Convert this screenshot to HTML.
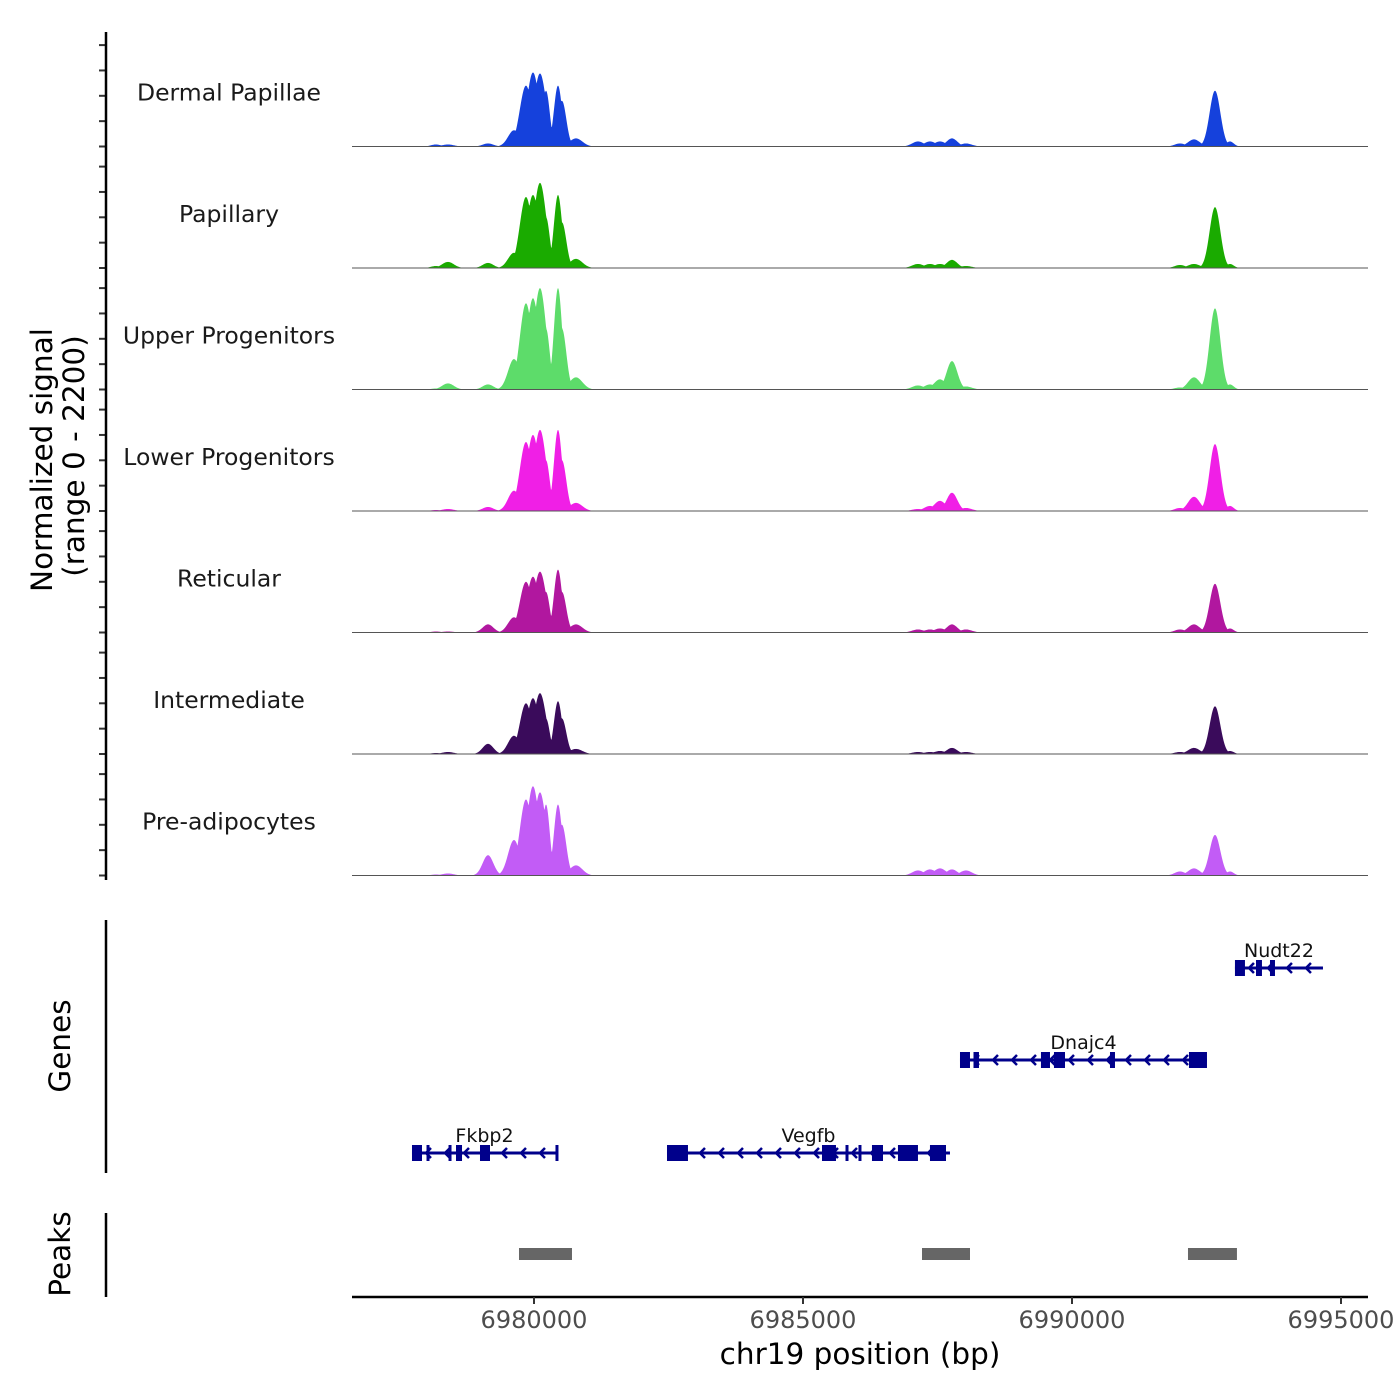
<!DOCTYPE html>
<html><head><meta charset="utf-8"><style>
body{margin:0;background:#fff;}
svg{display:block;font-family:"DejaVu Sans","Liberation Sans",sans-serif;}
</style></head><body>
<svg id="chart" width="1400" height="1400" viewBox="0 0 1400 1400" xmlns="http://www.w3.org/2000/svg">
<g id="tracks"></g>
<g id="genes"></g>
<g id="peaks"></g>
<g id="axes"></g>
</svg>
<script>
const trackNames = ["Dermal Papillae","Papillary","Upper Progenitors","Lower Progenitors","Reticular","Intermediate","Pre-adipocytes"];
const trackColors = ["#1541dc","#1aab00","#5ddc6a","#f01fe6","#b1179f","#3a0b5b","#c25cf6"];
const peakCenters = [6978178,6978401,6979145,6979628,6979851,6979981,6980111,6980223,6980446,6980520,6980780,6987137,6987360,6987546,6987769,6988029,6992007,6992267,6992658,6992936];
const peakWidths  = [90,110,100,110,115,115,115,70,75,80,120,110,110,110,100,110,100,110,100,70];
const sigDermal   = [40,40,60,320,1200,1460,1440,1100,1200,900,160,100,100,100,160,60,60,140,1100,100];
const sigPapillary= [40,120,100,300,1400,1440,1680,1000,1440,900,180,80,80,80,160,40,60,80,1200,80];
const sigUpper    = [20,120,100,600,1700,1800,2000,1200,2000,1200,240,80,100,200,560,60,40,240,1600,100];
const sigLower    = [20,40,80,400,1360,1500,1600,1000,1600,1000,160,40,100,200,360,60,60,280,1320,100];
const sigReticular= [20,20,160,300,1000,1100,1200,800,1240,800,160,60,60,80,160,60,60,160,960,80];
const sigInterm   = [20,40,200,360,1000,1100,1200,700,1040,700,100,40,40,60,120,40,40,120,940,60];
const sigPreadipo = [20,40,400,700,1500,1760,1640,1400,1400,1000,200,100,120,140,120,100,80,140,800,80];
const signals = [sigDermal,sigPapillary,sigUpper,sigLower,sigReticular,sigInterm,sigPreadipo];
const xTicks = [6980000,6985000,6990000,6995000];
const yTicks = [0,500,1000,1500,2000];
const geneNames = ["Fkbp2","Vegfb","Dnajc4","Nudt22"];
const geneStarts = [6977732,6982472,6987918,6993029];
const geneEnds = [6980427,6987732,6992509,6994665];
const geneRows = [0,0,1,2];
const geneExons = [
 [[6977732,6977918],[6978550,6978662],[6978996,6979182]],
 [[6982472,6982862],[6985353,6985613],[6986282,6986487],[6986765,6987137],[6987360,6987658]],
 [[6987918,6988104],[6988197,6988271],[6989423,6989591],[6989665,6989870],[6990706,6990799],[6992174,6992509]],
 [[6993029,6993215],[6993420,6993531],[6993680,6993773]]
];
const geneMarks = [[6978030,6978439,6980427],[6985818,6986059],[6988197],[]];
const peakStarts = [6979721,6987212,6992156];
const peakEnds = [6980706,6988104,6993066];

const NS="http://www.w3.org/2000/svg";
const X0=352,X1=1368,BP0=6976617,BP1=6995502;
const x = bp => X0+(bp-BP0)*(X1-X0)/(BP1-BP0);
const xinv = px => BP0+(px-X0)*(BP1-BP0)/(X1-X0);
const baselines=[146.5,268,389.5,511,632.5,754,875.5];
const yScale = 0.0507;
function mk(tag,attrs,parent){const e=document.createElementNS(NS,tag);for(const k in attrs)e.setAttribute(k,attrs[k]);parent.appendChild(e);return e;}
const T=document.getElementById('tracks'),G=document.getElementById('genes'),P=document.getElementById('peaks'),A=document.getElementById('axes');

signals.forEach((sig,ti)=>{
  const b=baselines[ti];
  let d=`M${X0},${b}`;
  for(let px=X0;px<=X1;px+=0.5){
    const bp=xinv(px);let v=0;
    for(let i=0;i<peakCenters.length;i++){const z=(bp-peakCenters[i])/peakWidths[i];v=Math.max(v,sig[i]*Math.exp(-0.5*z*z));}
    d+=`L${px.toFixed(1)},${(b-v*yScale).toFixed(2)}`;
  }
  d+=`L${X1},${b}Z`;
  const p=mk('path',{d:d,fill:trackColors[ti]},T);
  
  
  const l=mk('line',{x1:X0,x2:X1,y1:b,y2:b,stroke:'#555','stroke-width':1},T);
  
  
  const t=mk('text',{x:229,y:b-46,'text-anchor':'middle','font-size':23.5,fill:'#1a1a1a'},T);
  t.textContent=trackNames[ti];
  
  
  yTicks.forEach(v=>{
    const ty=b-v*yScale;
    const tk=mk('line',{x1:99,x2:106,y1:ty,y2:ty,stroke:'#333','stroke-width':2},A);
    
    
  });
});

const rowY=[1153,1060,968];
geneNames.forEach((g,gi)=>{
  const y=rowY[geneRows[gi]],s=x(geneStarts[gi]),e=x(geneEnds[gi]);
  const grp=mk('g',{},G);
  
  
  mk('line',{x1:s,x2:e,y1:y,y2:y,stroke:'#00008b','stroke-width':3},grp);
  for(let px=s+14;px<e-6;px+=19){
    mk('polyline',{points:`${px+5},${y-5} ${px},${y} ${px+5},${y+5}`,fill:'none',stroke:'#00008b','stroke-width':2.5},grp);
  }
  geneExons[gi].forEach(ex=>{const a=x(ex[0]),c=x(ex[1]);mk('rect',{x:a,y:y-8,width:Math.max(c-a,3),height:16,fill:'#00008b'},grp);});
  geneMarks[gi].forEach(m=>{const a=x(m);mk('line',{x1:a,x2:a,y1:y-8,y2:y+8,stroke:'#00008b','stroke-width':3},grp);});
  const t=mk('text',{x:(s+e)/2,y:y-11,'text-anchor':'middle','font-size':19,fill:'#111'},grp);
  t.textContent=g;
});

peakStarts.forEach((s,i)=>{
  const r=mk('rect',{x:x(s),y:1248,width:x(peakEnds[i])-x(s),height:12,fill:'#666'},P);
  
  
});

[[32,880],[920,1173],[1213,1297]].forEach(r=>{const l=mk('line',{x1:106,x2:106,y1:r[0],y2:r[1],stroke:'#000','stroke-width':2.5},A);});
const xl=mk('line',{x1:X0,x2:X1,y1:1297,y2:1297,stroke:'#000','stroke-width':2.5},A);

xTicks.forEach(v=>{
  const tk=mk('line',{x1:x(v),x2:x(v),y1:1297,y2:1304,stroke:'#333','stroke-width':2},A);
  
  
  const t=mk('text',{x:x(v),y:1328,'text-anchor':'middle','font-size':24,fill:'#4d4d4d'},A);
  t.textContent=v;
  
  
});
function title(txt,tx,ty,rot,name,size){const t=mk('text',{x:tx,y:ty,'text-anchor':'middle','font-size':size,fill:'#000',transform:rot?`rotate(-90 ${tx} ${ty})`:''},A);t.textContent=txt;}
title('chr19 position (bp)',860,1364,false,'x-axis-title',29.5);
title('Normalized signal',52,460,true,'y-axis-title',29.5);
title('(range 0 - 2200)',84,456,true,'y-axis-subtitle',29.5);
title('Genes',70,1046,true,'genes-axis-title',29.5);
title('Peaks',70,1254,true,'peaks-axis-title',29.5);
</script>
</body></html>
